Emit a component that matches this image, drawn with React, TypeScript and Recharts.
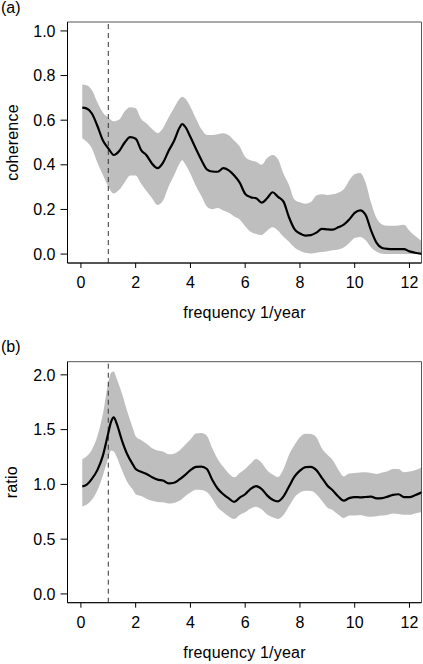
import React from 'react';
import {
  ComposedChart,
  Area,
  Line,
  XAxis,
  YAxis,
  ReferenceLine,
  ReferenceArea,
  Label,
} from 'recharts';

// ---------- Panel (a): coherence ----------
const freqA = [0.05, 0.2, 0.4, 0.6, 0.8, 1.0, 1.2, 1.4, 1.6, 1.8, 2.0, 2.2, 2.4, 2.6, 2.8, 3.0, 3.2, 3.4, 3.6, 3.7, 3.8, 4.0, 4.2, 4.4, 4.6, 4.8, 5.0, 5.2, 5.4, 5.6, 5.8, 6.0, 6.2, 6.4, 6.6, 6.8, 7.0, 7.2, 7.4, 7.6, 7.8, 8.0, 8.2, 8.4, 8.6, 8.8, 9.0, 9.2, 9.4, 9.6, 9.8, 10.0, 10.2, 10.4, 10.6, 10.8, 11.0, 11.2, 11.4, 11.6, 11.8, 12.0, 12.2, 12.45];
const meanA = [0.656, 0.653, 0.63, 0.575, 0.51, 0.474, 0.444, 0.462, 0.5, 0.524, 0.517, 0.466, 0.442, 0.405, 0.385, 0.41, 0.462, 0.507, 0.566, 0.583, 0.572, 0.525, 0.472, 0.422, 0.38, 0.37, 0.369, 0.385, 0.375, 0.352, 0.32, 0.27, 0.255, 0.25, 0.231, 0.25, 0.277, 0.256, 0.235, 0.165, 0.112, 0.092, 0.083, 0.085, 0.096, 0.113, 0.111, 0.11, 0.12, 0.132, 0.155, 0.185, 0.196, 0.175, 0.105, 0.05, 0.027, 0.023, 0.022, 0.022, 0.022, 0.012, 0.006, 0.001];
const hiA = [0.76, 0.757, 0.735, 0.68, 0.635, 0.612, 0.595, 0.603, 0.64, 0.658, 0.653, 0.605, 0.585, 0.56, 0.542, 0.565, 0.612, 0.655, 0.695, 0.705, 0.698, 0.66, 0.608, 0.56, 0.534, 0.534, 0.537, 0.541, 0.532, 0.508, 0.482, 0.435, 0.42, 0.414, 0.4, 0.43, 0.444, 0.425, 0.36, 0.31, 0.245, 0.232, 0.226, 0.233, 0.262, 0.268, 0.265, 0.268, 0.275, 0.29, 0.33, 0.358, 0.363, 0.32, 0.23, 0.16, 0.133, 0.127, 0.127, 0.128, 0.131, 0.105, 0.082, 0.058];
const loA = [0.519, 0.505, 0.474, 0.41, 0.355, 0.302, 0.272, 0.288, 0.322, 0.352, 0.352, 0.315, 0.282, 0.25, 0.22, 0.24, 0.302, 0.352, 0.405, 0.42, 0.405, 0.36, 0.305, 0.26, 0.213, 0.201, 0.206, 0.195, 0.185, 0.168, 0.155, 0.125, 0.1, 0.09, 0.086, 0.105, 0.12, 0.105, 0.078, 0.055, 0.03, 0.015, 0.006, 0.003, 0.006, 0.009, 0.013, 0.017, 0.02, 0.03, 0.05, 0.072, 0.077, 0.062, 0.03, 0.01, 0.002, 0, 0, 0, 0, 0, 0, 0];
const yTicksA = [0, 0.2, 0.4, 0.6, 0.8, 1.0];

// ---------- Panel (b): ratio ----------
const freqB = [0.05, 0.2, 0.4, 0.6, 0.8, 1.0, 1.1, 1.2, 1.3, 1.5, 1.7, 1.9, 2.0, 2.2, 2.4, 2.6, 2.8, 3.0, 3.2, 3.4, 3.6, 3.8, 4.0, 4.2, 4.4, 4.6, 4.8, 5.0, 5.2, 5.4, 5.6, 5.8, 6.0, 6.2, 6.4, 6.6, 6.8, 7.0, 7.2, 7.4, 7.6, 7.8, 8.0, 8.2, 8.4, 8.6, 8.8, 9.0, 9.2, 9.4, 9.6, 9.8, 10.0, 10.2, 10.4, 10.6, 10.8, 11.0, 11.2, 11.4, 11.6, 11.8, 12.0, 12.2, 12.45];
const meanB = [0.982, 0.995, 1.05, 1.13, 1.26, 1.47, 1.57, 1.612, 1.56, 1.4, 1.27, 1.18, 1.14, 1.115, 1.095, 1.065, 1.043, 1.036, 1.01, 1.015, 1.045, 1.085, 1.13, 1.16, 1.163, 1.14, 1.04, 0.96, 0.91, 0.872, 0.84, 0.88, 0.91, 0.96, 0.985, 0.958, 0.9, 0.86, 0.845, 0.89, 0.98, 1.07, 1.125, 1.158, 1.16, 1.13, 1.06, 0.99, 0.945, 0.89, 0.852, 0.875, 0.884, 0.882, 0.885, 0.888, 0.872, 0.875, 0.888, 0.905, 0.91, 0.884, 0.884, 0.9, 0.928];
const hiB = [1.231, 1.255, 1.316, 1.44, 1.64, 1.93, 2.02, 2.03, 1.97, 1.83, 1.66, 1.51, 1.44, 1.405, 1.37, 1.33, 1.31, 1.3, 1.275, 1.28, 1.31, 1.36, 1.41, 1.465, 1.47, 1.445, 1.33, 1.23, 1.16, 1.1, 1.065, 1.105, 1.14, 1.19, 1.232, 1.198, 1.13, 1.09, 1.068, 1.14, 1.27, 1.36, 1.43, 1.462, 1.46, 1.43, 1.33, 1.27, 1.22, 1.135, 1.073, 1.1, 1.103, 1.108, 1.11, 1.103, 1.095, 1.108, 1.12, 1.14, 1.14, 1.11, 1.117, 1.13, 1.155];
const loB = [0.8, 0.815, 0.86, 0.945, 1.08, 1.24, 1.31, 1.3, 1.255, 1.13, 1.02, 0.95, 0.91, 0.893, 0.87, 0.85, 0.84, 0.836, 0.825, 0.83, 0.85, 0.89, 0.925, 0.95, 0.948, 0.93, 0.87, 0.79, 0.745, 0.707, 0.684, 0.72, 0.745, 0.78, 0.797, 0.772, 0.725, 0.7, 0.685, 0.72, 0.8, 0.88, 0.925, 0.942, 0.94, 0.91, 0.85, 0.79, 0.765, 0.725, 0.693, 0.715, 0.717, 0.72, 0.71, 0.705, 0.71, 0.715, 0.723, 0.735, 0.73, 0.723, 0.723, 0.735, 0.748];
const yTicksB = [0, 0.5, 1.0, 1.5, 2.0];

const xTicks = [0, 2, 4, 6, 8, 10, 12];
const xDomain: [number, number] = [-0.49, 12.44];
const FONT = '"Liberation Sans", Arial, Helvetica, sans-serif';
const FS = 16;
const tickStyle = { fill: '#000', fontSize: FS, fontFamily: FONT };

function build(freq: number[], lo: number[], hi: number[], mean: number[]) {
  return freq.map((f, i) => ({ f, band: [lo[i], hi[i]], mean: mean[i] }));
}

const dataA = build(freqA, loA, hiA, meanA);
const dataB = build(freqB, loB, hiB, meanB);

type PanelProps = {
  data: any[];
  yDomain: [number, number];
  yTicks: number[];
  yLabel: string;
  tag: string;
  height: number;
  marginTop: number;
  xAxisHeight: number;
  xLabelOffset: number;
  tagY: number;
};

function Panel(p: PanelProps) {
  const yLabelContent = (props: any) => {
    const vb = props.viewBox || {};
    const cy = (vb.y || 0) + (vb.height || 0) / 2;
    const x = 17.5;
    return (
      <text
        x={x}
        y={cy}
        transform={`rotate(-90 ${x} ${cy})`}
        textAnchor="middle"
        fontFamily={FONT}
        fontSize={FS}
        letterSpacing={0.2}
        fill="#000"
      >
        {p.yLabel}
      </text>
    );
  };
  return (
    <div style={{ position: 'relative', width: 423, height: p.height }}>
      <ComposedChart
        width={423}
        height={p.height}
        data={p.data}
        margin={{ top: p.marginTop, right: 1.5, left: 0, bottom: 0 }}
      >
        <XAxis
          dataKey="f"
          type="number"
          domain={xDomain}
          allowDataOverflow
          ticks={xTicks}
          interval={0}
          height={p.xAxisHeight}
          tickSize={5}
          tickMargin={9}
          tick={tickStyle}
          stroke="#000"
          tickLine={{ stroke: '#000' }}
          axisLine={{ stroke: '#000' }}
        >
          <Label
            value="frequency 1/year"
            position="insideBottom"
            offset={p.xLabelOffset}
            style={{ fontFamily: FONT, fontSize: FS, fill: '#000', letterSpacing: 0.2 }}
          />
        </XAxis>
        <YAxis
          type="number"
          domain={p.yDomain}
          allowDataOverflow
          ticks={p.yTicks}
          interval={0}
          width={67.5}
          tickSize={7}
          tickMargin={5}
          tick={tickStyle}
          tickFormatter={(v: number) => v.toFixed(1)}
          stroke="#000"
          tickLine={{ stroke: '#000' }}
          axisLine={{ stroke: '#000' }}
        >
          <Label content={yLabelContent} />
        </YAxis>
        <Area
          dataKey="band"
          type="monotone"
          stroke="none"
          fill="#bebebe"
          fillOpacity={1}
          isAnimationActive={false}
          activeDot={false}
        />
        <ReferenceLine x={1} stroke="#333" strokeWidth={1} strokeDasharray="5 4" />
        <Line
          dataKey="mean"
          type="monotone"
          stroke="#000"
          strokeWidth={2.2}
          dot={false}
          activeDot={false}
          isAnimationActive={false}
        />
        <ReferenceArea
          x1={xDomain[0]}
          x2={xDomain[1]}
          y1={p.yDomain[0]}
          y2={p.yDomain[1]}
          fill="none"
          stroke="#555"
          strokeWidth={1}
          ifOverflow="visible"
        />
      </ComposedChart>
      <svg
        width={40}
        height={30}
        style={{ position: 'absolute', left: 0, top: 0, overflow: 'visible' }}
      >
        <text x={1} y={p.tagY} fontFamily={FONT} fontSize={FS} fill="#000">
          {p.tag}
        </text>
      </svg>
    </div>
  );
}

export default function App() {
  return (
    <div style={{ position: 'absolute', left: 0, top: 0, width: 423, height: 664, background: '#fff' }}>
      <Panel
        data={dataA}
        yDomain={[-0.04, 1.04]}
        yTicks={yTicksA}
        yLabel="coherence"
        tag="(a)"
        height={330}
        marginTop={22}
        xAxisHeight={67}
        xLabelOffset={12}
        tagY={12.5}
      />
      <Panel
        data={dataB}
        yDomain={[-0.08, 2.12]}
        yTicks={yTicksB}
        yLabel="ratio"
        tag="(b)"
        height={334}
        marginTop={31.7}
        xAxisHeight={61.3}
        xLabelOffset={6.3}
        tagY={21.5}
      />
    </div>
  );
}
